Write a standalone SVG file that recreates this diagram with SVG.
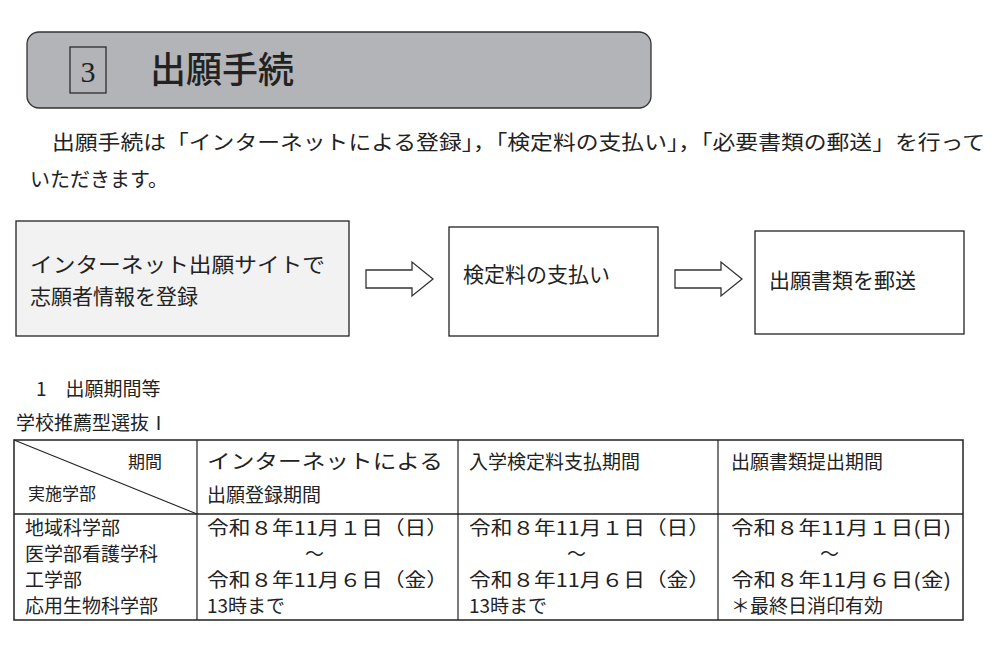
<svg xmlns="http://www.w3.org/2000/svg" width="992" height="645" viewBox="0 0 992 645">
<style>
text{font-family:"Noto Sans CJK JP","Liberation Serif",sans-serif;fill:#222}
.b{fill:none;stroke:#222;stroke-width:1.3}
.arr{fill:#fff;stroke:#333;stroke-width:1.3}
</style>
<rect width="992" height="645" fill="#fff"/>
<g id="header">
<rect x="27" y="32" width="624" height="76" rx="12" fill="#b3b4b8" stroke="#333" stroke-width="1.3"/>
<rect x="70" y="47" width="36" height="46" fill="none" stroke="#222" stroke-width="1.2"/>
<text x="88" y="82" font-size="30" text-anchor="middle" style="font-family:'Liberation Serif',serif">3</text>
<text x="150" y="83" font-size="36" font-weight="500">出願手続</text>
</g>
<g id="intro">
<text x="52" y="150" font-size="20" textLength="933" lengthAdjust="spacingAndGlyphs">出願手続は「インターネットによる登録」，「検定料の支払い」，「必要書類の郵送」を行って</text>
<text x="30" y="187" font-size="20">いただきます。</text>
</g>
<g id="step1">
<rect x="16" y="221" width="333" height="115" fill="#f2f2f2" stroke="#222" stroke-width="1.3"/>
<text x="30" y="272" font-size="21" textLength="295" lengthAdjust="spacingAndGlyphs">インターネット出願サイトで</text>
<text x="30" y="304" font-size="21">志願者情報を登録</text>
</g>
<g id="step2">
<rect x="449" y="227" width="209" height="109" class="b"/>
<text x="463" y="282" font-size="21">検定料の支払い</text>
</g>
<g id="step3">
<rect x="755" y="231" width="209" height="103" class="b"/>
<text x="769" y="288" font-size="21">出願書類を郵送</text>
</g>
<g id="connectors">
<polygon class="arr" points="366,270 412,270 412,262 433,279 412,296 412,288 366,288"/>
<polygon class="arr" points="675,270 721,270 721,262 742,279 721,296 721,288 675,288"/>
</g>
<g id="section">
<text x="36" y="396" font-size="19">1　出願期間等</text>
<text x="16" y="430" font-size="19">学校推薦型選抜Ⅰ</text>
</g>
<g id="table">
<rect x="14" y="440" width="949" height="180" fill="none" stroke="#222" stroke-width="1.5"/>
<line x1="14" y1="514" x2="963" y2="514" stroke="#222" stroke-width="1.3"/>
<line x1="197" y1="440" x2="197" y2="620" stroke="#222" stroke-width="1.2"/>
<line x1="458" y1="440" x2="458" y2="620" stroke="#222" stroke-width="1.2"/>
<line x1="718" y1="440" x2="718" y2="620" stroke="#222" stroke-width="1.2"/>
<line x1="14" y1="440" x2="197" y2="514" stroke="#222" stroke-width="1.1"/>
<text x="128" y="468" font-size="17">期間</text>
<text x="28" y="500" font-size="17">実施学部</text>
<text x="207" y="469" font-size="20" textLength="236" lengthAdjust="spacingAndGlyphs">インターネットによる</text>
<text x="207" y="502" font-size="19">出願登録期間</text>
<text x="469" y="469" font-size="19">入学検定料支払期間</text>
<text x="731" y="469" font-size="19">出願書類提出期間</text>
<text x="25" y="535" font-size="19">地域科学部</text>
<text x="25" y="561" font-size="19">医学部看護学科</text>
<text x="25" y="587" font-size="19">工学部</text>
<text x="25" y="613" font-size="19">応用生物科学部</text>
<text x="207" y="535" font-size="19" textLength="241" lengthAdjust="spacingAndGlyphs">令和８年11月１日（日）</text>
<text x="305" y="561" font-size="19">～</text>
<text x="207" y="587" font-size="19" textLength="241" lengthAdjust="spacingAndGlyphs">令和８年11月６日（金）</text>
<text x="207" y="613" font-size="19">13時まで</text>
<text x="469" y="535" font-size="19" textLength="241" lengthAdjust="spacingAndGlyphs">令和８年11月１日（日）</text>
<text x="567" y="561" font-size="19">～</text>
<text x="469" y="587" font-size="19" textLength="241" lengthAdjust="spacingAndGlyphs">令和８年11月６日（金）</text>
<text x="469" y="613" font-size="19">13時まで</text>
<text x="731" y="535" font-size="19" textLength="220" lengthAdjust="spacingAndGlyphs">令和８年11月１日(日)</text>
<text x="820" y="561" font-size="19">～</text>
<text x="731" y="587" font-size="19" textLength="220" lengthAdjust="spacingAndGlyphs">令和８年11月６日(金)</text>
<text x="731" y="613" font-size="19">＊最終日消印有効</text>
</g>
</svg>
